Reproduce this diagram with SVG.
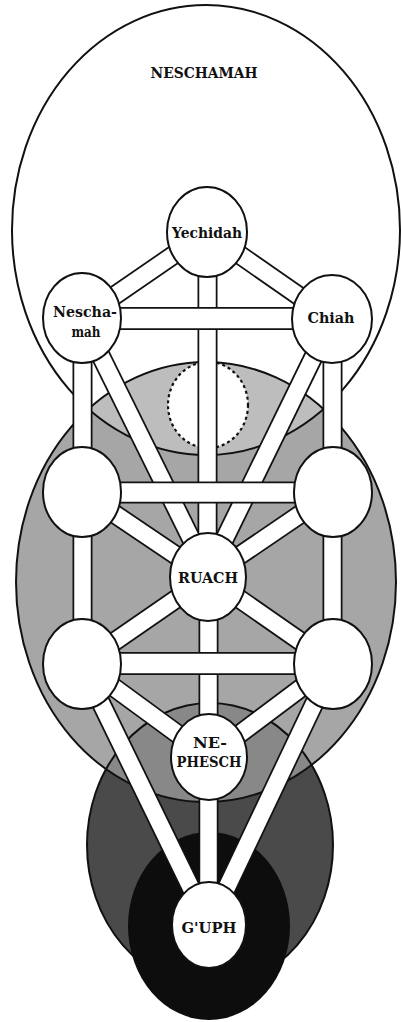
<svg xmlns="http://www.w3.org/2000/svg" width="401" height="1022" viewBox="0 0 401 1022">
<style>
.lbl{font-family:"DejaVu Serif","Liberation Serif",serif;font-weight:bold;fill:#111;text-anchor:middle;font-size:15.5px}
.node{fill:#fff;stroke:#111;stroke-width:2}
.out{fill:none;stroke:#111;stroke-width:2}
.pe{stroke:#111;stroke-linecap:butt}
.pi{stroke:#fff;stroke-linecap:butt}
</style>
<defs>
<clipPath id="clipRuach"><ellipse cx="206" cy="582" rx="190" ry="220"/></clipPath>
</defs>
<rect width="401" height="1022" fill="#fff"/>
<g id="souls">
<ellipse id="neschamah-sphere" cx="206" cy="230" rx="194" ry="225" fill="#fff"/>
<ellipse id="ruach-sphere" cx="206" cy="582" rx="190" ry="220" fill="#a6a6a6"/>
<ellipse cx="206" cy="230" rx="194" ry="225" fill="#bdbdbd" clip-path="url(#clipRuach)"/>
<ellipse id="nephesch-sphere" cx="210" cy="845" rx="123" ry="142" fill="#4a4a4a"/>
<ellipse cx="210" cy="845" rx="123" ry="142" fill="#888" clip-path="url(#clipRuach)"/>
<ellipse class="out" cx="206" cy="230" rx="194" ry="225"/>
<ellipse class="out" cx="206" cy="582" rx="190" ry="220"/>
<ellipse class="out" cx="210" cy="845" rx="123" ry="142"/>
<ellipse id="guph-sphere" cx="209" cy="926" rx="81" ry="94" fill="#0d0d0d"/>
<text class="lbl" x="204" y="78" textLength="107" lengthAdjust="spacingAndGlyphs">NESCHAMAH</text>
</g>
<g id="daath">
<ellipse cx="208" cy="405" rx="40" ry="43" fill="#fff" stroke="#111" stroke-width="2.2" stroke-dasharray="3 3"/>
</g>
<g id="connectors">
<g class="pe" stroke-width="20">
<line x1="207" y1="232" x2="82" y2="318"/>
<line x1="207" y1="232" x2="332" y2="319"/>
<line x1="207.5" y1="232" x2="207.5" y2="577"/>
<line x1="82.5" y1="318" x2="82.5" y2="492"/>
<line x1="332.5" y1="319" x2="332.5" y2="492"/>
<line x1="82" y1="318" x2="210" y2="577"/>
<line x1="332" y1="319" x2="206" y2="577"/>
<line x1="82" y1="492" x2="208" y2="577"/>
<line x1="333" y1="492" x2="208" y2="577"/>
<line x1="82.5" y1="492" x2="82.5" y2="664"/>
<line x1="332.5" y1="492" x2="332.5" y2="664"/>
<line x1="82" y1="664" x2="208" y2="577"/>
<line x1="333" y1="664" x2="208" y2="577"/>
<line x1="208.5" y1="577" x2="208.5" y2="757"/>
<line x1="82" y1="664" x2="209" y2="757"/>
<line x1="333" y1="664" x2="209" y2="757"/>
<line x1="82" y1="664" x2="209" y2="925"/>
<line x1="333" y1="664" x2="209" y2="925"/>
<line x1="208.5" y1="757" x2="208.5" y2="925"/>
</g>
<g class="pi" stroke-width="16.5">
<line x1="207" y1="232" x2="82" y2="318"/>
<line x1="207" y1="232" x2="332" y2="319"/>
<line x1="207.5" y1="232" x2="207.5" y2="577"/>
<line x1="82.5" y1="318" x2="82.5" y2="492"/>
<line x1="332.5" y1="319" x2="332.5" y2="492"/>
<line x1="82" y1="318" x2="210" y2="577"/>
<line x1="332" y1="319" x2="206" y2="577"/>
<line x1="82" y1="492" x2="208" y2="577"/>
<line x1="333" y1="492" x2="208" y2="577"/>
<line x1="82.5" y1="492" x2="82.5" y2="664"/>
<line x1="332.5" y1="492" x2="332.5" y2="664"/>
<line x1="82" y1="664" x2="208" y2="577"/>
<line x1="333" y1="664" x2="208" y2="577"/>
<line x1="208.5" y1="577" x2="208.5" y2="757"/>
<line x1="82" y1="664" x2="209" y2="757"/>
<line x1="333" y1="664" x2="209" y2="757"/>
<line x1="82" y1="664" x2="209" y2="925"/>
<line x1="333" y1="664" x2="209" y2="925"/>
<line x1="208.5" y1="757" x2="208.5" y2="925"/>
</g>
<g>
<line class="pe" stroke-width="23" x1="82" y1="318.5" x2="332" y2="318.5"/>
<line class="pi" stroke-width="19.5" x1="82" y1="318.5" x2="332" y2="318.5"/>
<line class="pe" stroke-width="22" x1="82" y1="492.5" x2="333" y2="492.5"/>
<line class="pi" stroke-width="18.5" x1="82" y1="492.5" x2="333" y2="492.5"/>
<line class="pe" stroke-width="23" x1="82" y1="663.5" x2="333" y2="663.5"/>
<line class="pi" stroke-width="19.5" x1="82" y1="663.5" x2="333" y2="663.5"/>
</g>
</g>
<g id="yechidah"><ellipse class="node" cx="207" cy="232" rx="40" ry="45"/><text class="lbl" x="207" y="238" textLength="70" lengthAdjust="spacingAndGlyphs">Yechidah</text></g>
<g id="neschamah"><ellipse class="node" cx="82" cy="318" rx="39" ry="45"/><text class="lbl" x="85" y="317" textLength="64" lengthAdjust="spacingAndGlyphs">Nescha-</text><text class="lbl" x="86" y="337" textLength="29" lengthAdjust="spacingAndGlyphs">mah</text></g>
<g id="chiah"><ellipse class="node" cx="332" cy="319" rx="40" ry="44"/><text class="lbl" x="331" y="323" textLength="47" lengthAdjust="spacingAndGlyphs">Chiah</text></g>
<g id="left-middle"><ellipse class="node" cx="82" cy="492" rx="39" ry="45"/></g>
<g id="right-middle"><ellipse class="node" cx="333" cy="492" rx="39" ry="45"/></g>
<g id="ruach"><ellipse class="node" cx="208" cy="577" rx="38" ry="44"/><text class="lbl" x="208" y="583" textLength="60" lengthAdjust="spacingAndGlyphs">RUACH</text></g>
<g id="left-lower"><ellipse class="node" cx="82" cy="664" rx="39" ry="45"/></g>
<g id="right-lower"><ellipse class="node" cx="333" cy="664" rx="39" ry="45"/></g>
<g id="nephesch"><ellipse class="node" cx="209" cy="757" rx="38" ry="43"/><text class="lbl" x="210" y="748" textLength="34" lengthAdjust="spacingAndGlyphs">NE-</text><text class="lbl" x="209" y="767" textLength="65" lengthAdjust="spacingAndGlyphs">PHESCH</text></g>
<g id="guph"><ellipse class="node" cx="209" cy="925" rx="37" ry="43"/><text class="lbl" x="209" y="933" textLength="55" lengthAdjust="spacingAndGlyphs">G'UPH</text></g>
</svg>
